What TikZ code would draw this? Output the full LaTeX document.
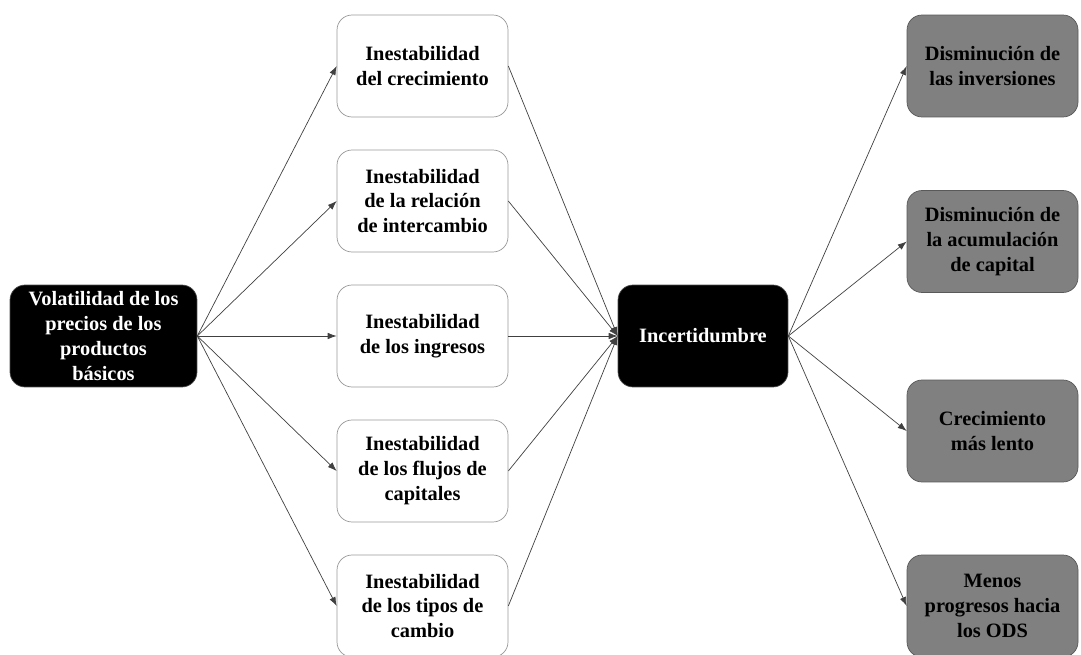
\documentclass[tikz,border=0pt]{standalone}
\usepackage{fontspec}
\setmainfont{Liberation Serif}
\usetikzlibrary{positioning,arrows.meta}
\tikzset{>={Latex[length=1.8mm,width=1.3mm]}}
\newcommand{\boxw}{3.42cm}
\newcommand{\boxh}{2.04cm}
\tikzset{
  box/.style = {rounded corners=0.3cm, minimum width=\boxw, minimum height=\boxh,
    align=center, inner sep=2pt, font=\fontsize{11.6}{14.2}\selectfont\bfseries},
  blackbox/.style = {box, fill=black, draw=black!70, text=white},
  whitebox/.style = {box, fill=white, draw=black!40},
  graybox/.style  = {box, fill=black!50, draw=black!65, text=black}
}

\begin{document}
\begin{tikzpicture}[x=0.02cm, y=-0.02cm]
  \tikzstyle{link}=[->, draw=black!75, line width=0.4pt]
  \useasboundingbox (0,0) rectangle (1081,655);
  % origen
  \node[blackbox, minimum width=3.74cm] (vol) at (103.5,336) {Volatilidad de los\\ precios de los\\ productos\\ básicos};
  % inestabilidades
  \node[whitebox] (crec) at (422.5,66)  {Inestabilidad\\ del crecimiento};
  \node[whitebox] (rel)  at (422.5,201) {Inestabilidad\\ de la relación\\ de intercambio};
  \node[whitebox] (ing)  at (422.5,336) {Inestabilidad\\ de los ingresos};
  \node[whitebox] (flu)  at (422.5,471) {Inestabilidad\\ de los flujos de\\ capitales};
  \node[whitebox] (tip)  at (422.5,606) {Inestabilidad\\ de los tipos de\\ cambio};
  % centro
  \node[blackbox, minimum width=3.4cm] (inc) at (703,336) {Incertidumbre};
  % efectos
  \node[graybox] (inv) at (992.5,66)    {Disminución de\\ las inversiones};
  \node[graybox] (acu) at (992.5,241.5) {Disminución de\\ la acumulación\\ de capital};
  \node[graybox] (len) at (992.5,431)   {Crecimiento\\ más lento};
  \node[graybox] (ods) at (992.5,606)   {Menos\\ progresos hacia\\ los ODS};
  \foreach \m in {crec,rel,ing,flu,tip}{
    \draw[link] (vol.east) -- (\m.west);
    \draw[link] (\m.east) -- (inc.west);
  }
  \foreach \r in {inv,acu,len,ods}
    \draw[link] (inc.east) -- (\r.west);
\end{tikzpicture}
\end{document}
